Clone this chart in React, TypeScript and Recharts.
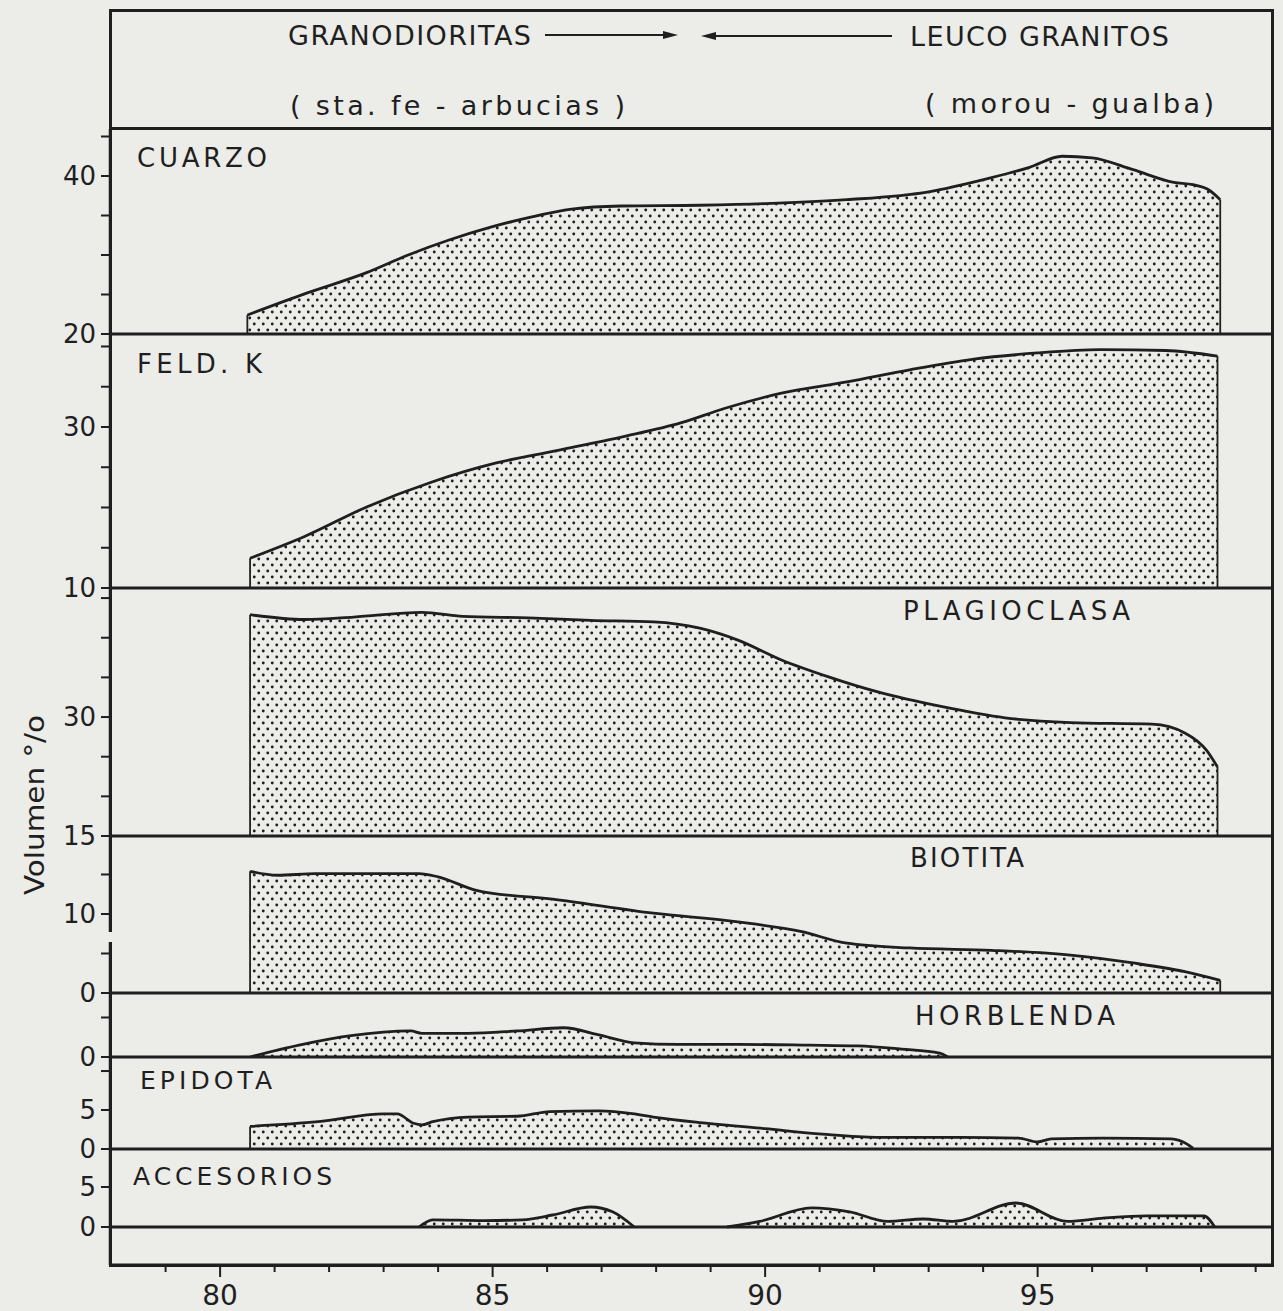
import React from 'react';
import { AreaChart, Area, XAxis, YAxis, ReferenceLine } from 'recharts';

const INK = '#1f1f1f';
const PAPER = '#ecece9';
const FONT = "'DejaVu Sans', 'Liberation Sans', sans-serif";

// eje x comun (SiO2 %)
const xDomain: [number, number] = [77.98, 99.3];
const xTicks = [79, 80, 81, 82, 83, 84, 85, 86, 87, 88, 89, 90, 91, 92, 93, 94, 95, 96, 97, 98, 99];
const xTickLabels = [80, 85, 90, 95];

// CUARZO
const cuarzoSi = [80.5, 81.6, 82.7, 83.45, 84.2, 84.95, 85.7, 86.45, 87.35, 88.8, 90.0, 91.5, 93.0, 94.1, 94.85, 95.45, 96.0, 96.75, 97.5, 97.85, 98.15, 98.35];
const cuarzoVol = [22.4, 25.2, 27.8, 30.0, 31.9, 33.5, 34.8, 35.8, 36.2, 36.3, 36.5, 37.0, 38.0, 39.7, 41.1, 42.5, 42.3, 40.8, 39.2, 38.9, 38.2, 37.0];
const cuarzoTicks = [20, 25, 30, 35, 40, 45];
const cuarzoTickLabels = [20, 40];

// FELD. K
const feldSi = [80.55, 81.55, 82.7, 83.9, 85.05, 86.2, 87.4, 88.45, 89.25, 90.3, 91.5, 92.65, 93.8, 95.0, 96.15, 97.35, 98.3];
const feldVol = [13.7, 16.4, 20.1, 23.2, 25.5, 27.1, 28.8, 30.5, 32.3, 34.2, 35.6, 37.1, 38.4, 39.2, 39.6, 39.5, 38.8];
const feldTicks = [10, 15, 20, 25, 30, 35, 40];
const feldTickLabels = [10, 30];

// PLAGIOCLASA
const plagSi = [80.55, 81.55, 82.45, 83.7, 84.45, 85.65, 86.8, 87.95, 88.8, 89.5, 90.3, 91.15, 92.05, 93.25, 94.4, 95.6, 97.1, 97.7, 98.1, 98.3];
const plagVol = [42.9, 42.3, 42.6, 43.2, 42.7, 42.5, 42.2, 42.0, 41.2, 39.7, 37.2, 35.1, 33.2, 31.3, 29.9, 29.3, 29.1, 28.0, 25.8, 23.7];
const plagTicks = [15, 20, 25, 30, 35, 40, 45];
const plagTickLabels = [15, 30];

// BIOTITA
const bioSi = [80.55, 81.05, 81.75, 83.65, 84.0, 84.7, 86.2, 87.95, 89.5, 90.65, 91.5, 92.65, 94.15, 95.6, 96.75, 97.7, 98.35];
const bioVol = [15.4, 14.9, 15.1, 15.1, 14.7, 13.0, 11.8, 10.1, 9.0, 7.8, 6.3, 5.7, 5.4, 4.8, 3.8, 2.7, 1.6];
const bioTicks = [0, 5, 10, 15];
const bioTickLabels = [0, 10];

// HORBLENDA
const hornSi = [80.55, 81.45, 82.4, 83.5, 83.7, 84.55, 85.45, 86.3, 86.95, 87.6, 88.4, 89.5, 90.8, 91.7, 92.5, 93.2, 93.35];
const hornVol = [0, 1.5, 2.7, 3.3, 3.0, 3.0, 3.3, 3.7, 2.8, 1.8, 1.6, 1.6, 1.5, 1.4, 1.0, 0.5, 0];
const hornTicks = [0, 5];
const hornTickLabels = [0];

// EPIDOTA
const epiSi = [80.55, 81.8, 83.0, 83.25, 83.55, 83.7, 83.9, 84.55, 85.45, 86.05, 86.95, 87.6, 87.95, 88.95, 90.0, 91.05, 92.05, 93.6, 94.65, 95.0, 95.25, 96.2, 97.45, 97.75, 97.85];
const epiVol = [2.9, 3.5, 4.5, 4.5, 3.3, 3.1, 3.5, 4.1, 4.2, 4.8, 4.9, 4.5, 4.1, 3.3, 2.6, 1.9, 1.5, 1.5, 1.4, 0.9, 1.3, 1.4, 1.3, 0.6, 0.1];
const epiTicks = [0, 5, 10];
const epiTickLabels = [0, 5];

// ACCESORIOS (dos tramos)
const accASi = [83.65, 83.9, 84.85, 85.55, 86.1, 86.8, 87.2, 87.6];
const accAVol = [0, 0.9, 0.8, 0.9, 1.5, 2.5, 1.9, 0];
const accBSi = [89.3, 89.9, 90.85, 91.55, 92.25, 92.9, 93.45, 94.6, 95.55, 96.2, 97.0, 98.05, 98.25];
const accBVol = [0, 0.7, 2.4, 1.9, 0.7, 1.0, 0.7, 3.0, 0.7, 1.1, 1.4, 1.4, 0];
const accTicks = [0, 5];
const accTickLabels = [0, 5];

type Row = { x: number; [k: string]: number | null };

const toRows = (parts: { key: string; xs: number[]; vs: number[] }[]): Row[] => {
  const keys = parts.map((p) => p.key);
  const rows: Row[] = [];
  parts.forEach((p) => {
    p.xs.forEach((x, i) => {
      const r: Row = { x };
      keys.forEach((k) => (r[k] = null));
      r[p.key] = p.vs[i];
      rows.push(r);
    });
  });
  return rows;
};

const panels = [
  { id: 'cuarzo', top: 129, bottom: 334, domain: [20, 45.95], base: 20, ticks: cuarzoTicks, labels: cuarzoTickLabels, parts: [{ key: 'v', xs: cuarzoSi, vs: cuarzoVol }] },
  { id: 'feld', top: 334, bottom: 588, domain: [10, 41.55], base: 10, ticks: feldTicks, labels: feldTickLabels, parts: [{ key: 'v', xs: feldSi, vs: feldVol }] },
  { id: 'plag', top: 588, bottom: 836, domain: [15, 46.27], base: 15, ticks: plagTicks, labels: plagTickLabels, parts: [{ key: 'v', xs: plagSi, vs: plagVol }] },
  { id: 'bio', top: 836, bottom: 993, domain: [0, 19.87], base: 0, ticks: bioTicks, labels: bioTickLabels, parts: [{ key: 'v', xs: bioSi, vs: bioVol }] },
  { id: 'horn', top: 993, bottom: 1057, domain: [0, 8.1], base: 0, ticks: hornTicks, labels: hornTickLabels, parts: [{ key: 'v', xs: hornSi, vs: hornVol }] },
  { id: 'epi', top: 1057, bottom: 1149, domain: [0, 11.8], base: 0, ticks: epiTicks, labels: epiTickLabels, parts: [{ key: 'v', xs: epiSi, vs: epiVol }] },
  {
    id: 'acc', top: 1149, bottom: 1265, domain: [-4.75, 9.75], base: 0, ticks: accTicks, labels: accTickLabels,
    parts: [{ key: 'a', xs: accASi, vs: accAVol }, { key: 'b', xs: accBSi, vs: accBVol }],
  },
];

const XTick = (props: any) => {
  const { x, y, payload } = props;
  const major = xTickLabels.includes(payload.value);
  return (
    <g>
      <line x1={x} x2={x} y1={y} y2={y + (major ? 12 : 7)} stroke={INK} strokeWidth={2} />
      {major && (
        <text x={x} y={y + 40} textAnchor="middle" fontSize={28} fill={INK} fontFamily={FONT}>
          {payload.value}
        </text>
      )}
    </g>
  );
};

const Panel = ({ p, last }: { p: (typeof panels)[number]; last: boolean }) => {
  const h = p.bottom - p.top;
  const extra = last ? 46 : 18;
  const rows = toRows(p.parts);
  return (
    <div style={{ position: 'absolute', left: 0, top: p.top }}>
      <AreaChart width={1280} height={h + extra} data={rows} margin={{ top: 0, right: 8, bottom: last ? 0 : extra, left: 0 }}>
        <defs>
          <pattern id={`dots-${p.id}`} width={9} height={12} patternUnits="userSpaceOnUse">
            <circle cx={2.25} cy={3} r={1.45} fill={INK} />
            <circle cx={6.75} cy={9} r={1.45} fill={INK} />
          </pattern>
        </defs>
        <XAxis
          type="number"
          dataKey="x"
          domain={xDomain}
          allowDataOverflow
          ticks={xTicks}
          interval={0}
          hide={!last}
          height={46}
          axisLine={{ stroke: INK, strokeWidth: 3 }}
          tickLine={false}
          tickSize={0}
          tickMargin={0}
          tick={<XTick />}
        />
        <YAxis
          type="number"
          domain={p.domain as [number, number]}
          allowDataOverflow
          ticks={p.ticks}
          interval={0}
          width={110}
          axisLine={{ stroke: INK, strokeWidth: 2.5 }}
          tickLine={{ stroke: INK, strokeWidth: 2 }}
          tickSize={9}
          tickMargin={5}
          tick={{ fill: INK, fontSize: 26, fontFamily: FONT }}
          tickFormatter={(v: number) => (p.labels.includes(v) ? String(v) : '')}
        />
        {p.parts.map((part) => (
          <Area
            key={part.key}
            dataKey={part.key}
            type="monotone"
            baseValue={p.base}
            stroke={INK}
            strokeWidth={2.8}
            fill={`url(#dots-${p.id})`}
            fillOpacity={1}
            dot={false}
            activeDot={false}
            connectNulls={false}
            isAnimationActive={false}
          />
        ))}
        <ReferenceLine y={p.base} stroke={INK} strokeWidth={3} />
        {p.parts.flatMap((part) => {
          const n = part.xs.length;
          const ends = [
            { x: part.xs[0], v: part.vs[0] },
            { x: part.xs[n - 1], v: part.vs[n - 1] },
          ].filter((e) => e.v - p.base > 0.3);
          return ends.map((e, i) => (
            <ReferenceLine
              key={`${part.key}-edge-${i}`}
              segment={[{ x: e.x, y: p.base }, { x: e.x, y: e.v }]}
              stroke={INK}
              strokeWidth={1.8}
            />
          ));
        })}
      </AreaChart>
    </div>
  );
};

const labelStyle = { fontFamily: FONT, fill: INK } as const;

export default function App() {
  return (
    <div style={{ position: 'absolute', left: 0, top: 0, width: 1283, height: 1311, background: PAPER, overflow: 'hidden' }}>
      <div
        style={{
          position: 'absolute', left: 109, top: 9, width: 1165, height: 1258,
          border: `3px solid ${INK}`, boxSizing: 'border-box',
        }}
      />
      <div style={{ position: 'absolute', left: 110, top: 127, width: 1162, borderTop: `3px solid ${INK}` }} />
      {panels.map((p, i) => (
        <Panel key={p.id} p={p} last={i === panels.length - 1} />
      ))}
      <svg width={1283} height={1311} style={{ position: 'absolute', left: 0, top: 0, pointerEvents: 'none' }}>
        <rect x={105} y={932} width={10} height={10} fill={PAPER} />
        <text x={288} y={45} fontSize={27} textLength={243} lengthAdjust="spacing" {...labelStyle}>GRANODIORITAS</text>
        <line x1={545} y1={35} x2={668} y2={35} stroke={INK} strokeWidth={1.8} />
        <polygon points="663,31 678,35 663,39" fill={INK} />
        <line x1={712} y1={36} x2={892} y2={36} stroke={INK} strokeWidth={1.8} />
        <polygon points="716,32 701,36 716,40" fill={INK} />
        <text x={910} y={46} fontSize={27} textLength={259} lengthAdjust="spacing" {...labelStyle}>LEUCO GRANITOS</text>
        <text x={290} y={115} fontSize={27} textLength={335} lengthAdjust="spacing" {...labelStyle}>( sta. fe  - arbucias )</text>
        <text x={925} y={113} fontSize={27} textLength={289} lengthAdjust="spacing" {...labelStyle}>( morou - gualba)</text>
        <text x={137} y={167} fontSize={26} textLength={130} lengthAdjust="spacing" {...labelStyle}>CUARZO</text>
        <text x={137} y={373} fontSize={26} textLength={125} lengthAdjust="spacing" {...labelStyle}>FELD. K</text>
        <text x={903} y={620} fontSize={26} textLength={227} lengthAdjust="spacing" {...labelStyle}>PLAGIOCLASA</text>
        <text x={910} y={867} fontSize={26} textLength={114} lengthAdjust="spacing" {...labelStyle}>BIOTITA</text>
        <text x={915} y={1025} fontSize={26} textLength={200} lengthAdjust="spacing" {...labelStyle}>HORBLENDA</text>
        <text x={140} y={1089} fontSize={25} textLength={132} lengthAdjust="spacing" {...labelStyle}>EPIDOTA</text>
        <text x={133} y={1185} fontSize={25} textLength={199} lengthAdjust="spacing" {...labelStyle}>ACCESORIOS</text>
        <text
          x={0}
          y={0}
          fontSize={26}
          textAnchor="middle"
          textLength={180}
          lengthAdjust="spacingAndGlyphs"
          transform="translate(44 805) rotate(-90)"
          {...labelStyle}
        >
          Volumen °/o
        </text>
      </svg>
    </div>
  );
}
